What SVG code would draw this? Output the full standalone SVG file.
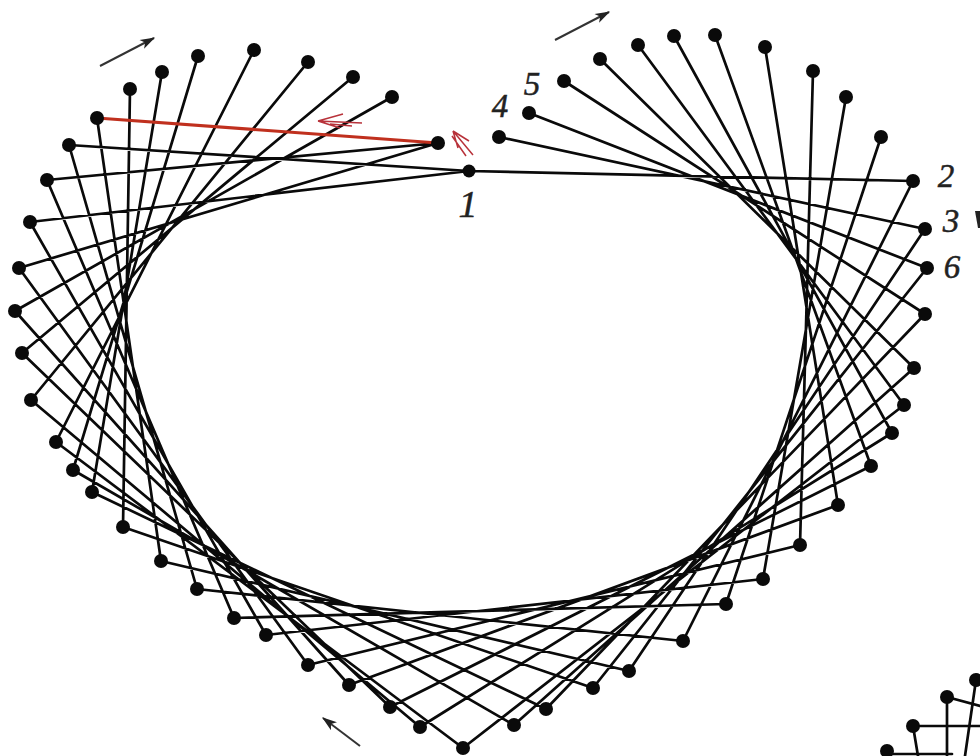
<svg xmlns="http://www.w3.org/2000/svg" width="980" height="756" viewBox="0 0 980 756">
<defs>
<marker id="ah" viewBox="0 0 12 8" refX="11" refY="4" markerWidth="20" markerHeight="10" markerUnits="userSpaceOnUse" orient="auto"><path d="M0,0 L12,4 L0,8 L3,4 Z" fill="#222"/></marker>
</defs>
<style>
.s{stroke:#0a0a0a;stroke-width:2.7;fill:none;stroke-linecap:round}
.ra{stroke:#b8323a;stroke-width:1.5;fill:none}
.a{stroke:#333;stroke-width:2;fill:none;marker-end:url(#ah)}
.d{fill:#0a0a0a}
.l{font-family:"Liberation Serif",serif;font-style:italic;font-size:33px;fill:#222;stroke:#222;stroke-width:.5;text-anchor:middle}
</style>
<rect width="980" height="756" fill="#fff"/>
<g id="connectors" class="s">
<path d="M469,171L913,181M499,137L925,229M529,113L927,268M564,81L925,314M600,59L914,368M638,45L904,405M674,36L892,433M715,35L871,466M765,47L838,505M813,71L800,545M846,97L763,579M881,137L726,604M913,181L683,641M925,229L629,671M927,268L593,688M925,314L546,709M914,368L514,725M904,405L463,748M892,433L420,727M871,466L390,707M838,505L349,685M800,545L308,665M763,579L266,635M726,604L234,618M683,641L197,589M629,671L161,561M593,688L123,527M546,709L92,492M514,725L73,470M463,748L56,442M420,727L31,400M390,707L22,353M349,685L15,311M308,665L19,268M266,635L30,222M234,618L47,180M197,589L69,145M161,561L97,118M123,527L130,89M92,492L162,72M73,470L198,56M56,442L254,50M31,400L308,62M22,353L353,77M15,311L392,97M19,268L438,143M30,222L469,171M47,180L438,143M69,145L469,171"/>
<path d="M887,754L952,754M913,726L980,726M913,726L918,756M947,697L947,756M947,697L980,706M976,680L965,756"/>
<path d="M97,118L438,143" style="stroke:#c0301e;stroke-width:3.2"/>
</g>
<g id="arrows">
<path class="a" d="M100,66L154,38"/>
<path class="a" d="M555,40L609,12"/>
<path class="a" d="M360,746L323,718"/>
<path class="ra" d="M362,123L318,121M318,121L343,114M318,121L340,128M352,126L330,124"/>
<path class="ra" d="M473,155L453,131M453,131L469,141M453,131L458,148M466,156L452,136"/>
<path d="M975,211L980,211L980,228L978,228Z" fill="#222"/>
</g>
<g id="dots" class="d">
<circle cx="469" cy="171" r="6.5"/><circle cx="499" cy="137" r="7"/><circle cx="529" cy="113" r="7"/><circle cx="564" cy="81" r="7"/><circle cx="600" cy="59" r="7"/><circle cx="638" cy="45" r="7"/><circle cx="674" cy="36" r="7"/><circle cx="715" cy="35" r="7"/><circle cx="765" cy="47" r="7"/><circle cx="813" cy="71" r="7"/><circle cx="846" cy="97" r="7"/><circle cx="881" cy="137" r="7"/><circle cx="913" cy="181" r="7"/><circle cx="925" cy="229" r="7"/><circle cx="927" cy="268" r="7"/><circle cx="925" cy="314" r="7"/><circle cx="914" cy="368" r="7"/><circle cx="904" cy="405" r="7"/><circle cx="892" cy="433" r="7"/><circle cx="871" cy="466" r="7"/><circle cx="838" cy="505" r="7"/><circle cx="800" cy="545" r="7"/><circle cx="763" cy="579" r="7"/><circle cx="726" cy="604" r="7"/><circle cx="683" cy="641" r="7"/><circle cx="629" cy="671" r="7"/><circle cx="593" cy="688" r="7"/><circle cx="546" cy="709" r="7"/><circle cx="514" cy="725" r="7"/><circle cx="463" cy="748" r="7"/><circle cx="420" cy="727" r="7"/><circle cx="390" cy="707" r="7"/><circle cx="349" cy="685" r="7"/><circle cx="308" cy="665" r="7"/><circle cx="266" cy="635" r="7"/><circle cx="234" cy="618" r="7"/><circle cx="197" cy="589" r="7"/><circle cx="161" cy="561" r="7"/><circle cx="123" cy="527" r="7"/><circle cx="92" cy="492" r="7"/><circle cx="73" cy="470" r="7"/><circle cx="56" cy="442" r="7"/><circle cx="31" cy="400" r="7"/><circle cx="22" cy="353" r="7"/><circle cx="15" cy="311" r="7"/><circle cx="19" cy="268" r="7"/><circle cx="30" cy="222" r="7"/><circle cx="47" cy="180" r="7"/><circle cx="69" cy="145" r="7"/><circle cx="97" cy="118" r="7"/><circle cx="130" cy="89" r="7"/><circle cx="162" cy="72" r="7"/><circle cx="198" cy="56" r="7"/><circle cx="254" cy="50" r="7"/><circle cx="308" cy="62" r="7"/><circle cx="353" cy="77" r="7"/><circle cx="392" cy="97" r="7"/><circle cx="438" cy="143" r="7"/>
<circle cx="887" cy="751" r="7"/><circle cx="913" cy="726" r="7"/><circle cx="947" cy="697" r="7"/><circle cx="976" cy="680" r="7"/>
</g>
<g id="labels">
<text class="l" x="468" y="217" style="font-size:38px">1</text>
<text class="l" x="946" y="187">2</text>
<text class="l" x="951" y="232">3</text>
<text class="l" x="500" y="117">4</text>
<text class="l" x="532" y="95">5</text>
<text class="l" x="952" y="278">6</text>
</g>
</svg>
